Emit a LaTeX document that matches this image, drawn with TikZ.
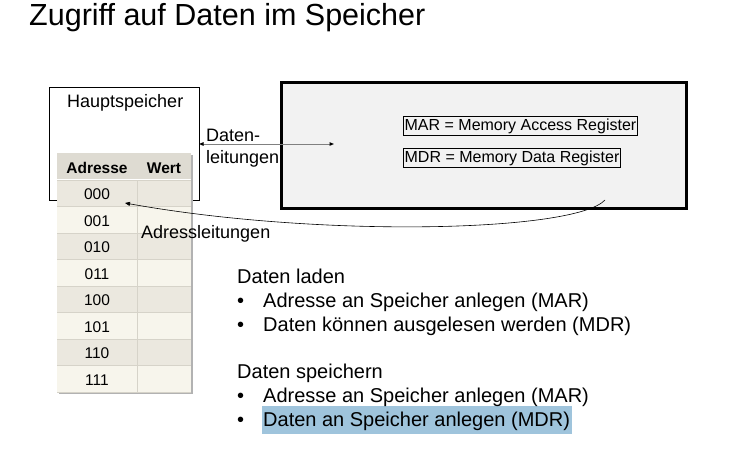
\documentclass[tikz,border=0pt]{standalone}
\usepackage{fontspec}
\setmainfont{Liberation Sans}
\usetikzlibrary{arrows.meta}
\definecolor{hdrfill}{HTML}{DEDBD2}
\definecolor{rowdark}{HTML}{EBE8DF}
\definecolor{rowlight}{HTML}{F7F5EC}
\definecolor{gridline}{HTML}{D6D3C9}
\definecolor{cpufill}{HTML}{F2F2F2}
\definecolor{hilite}{HTML}{9FC4DC}
\begin{document}
\begin{tikzpicture}[x=1pt,y=-1pt,
  txt/.style={inner sep=0pt,anchor=base west,font=\fontsize{20}{23}\selectfont},
  lbl/.style={inner sep=0pt,anchor=base west,font=\fontsize{18}{21}\selectfont},
  reg/.style={draw,line width=0.9pt,inner xsep=1.2pt,inner ysep=2pt,anchor=base west,font=\fontsize{16}{19}\selectfont},
  cell/.style={inner sep=0pt,anchor=base,font=\fontsize{15.5}{18}\selectfont},
  tip/.style={-{Triangle[length=5pt,width=4pt]}},
  datatip/.style={{Triangle[length=4.5pt,width=3.5pt,color=black]}-{Triangle[length=4.5pt,width=3.5pt,color=black]}},
]
\useasboundingbox (0,0) rectangle (731,451);

% title
\node[inner sep=0pt,anchor=base west,font=\fontsize{30.5}{35}\selectfont] (title) at (29,25) {Zugriff auf Daten im Speicher};

% main memory box
\draw[fill=white,line width=0.9pt] (49,87) rectangle (199,200);
\node[lbl] (hs) at (67,107) {Hauptspeicher};
\coordinate (hsright) at (199,144);

% address/value table with shadow
\fill[black!30] (59,155) rectangle (193,394);
\fill[hdrfill] (57,153) rectangle (191,179);
\node[cell,font=\fontsize{15.5}{18}\selectfont\bfseries] (hadr) at (97,173) {Adresse};
\node[cell,font=\fontsize{15.5}{18}\selectfont\bfseries] (hwert) at (164,173) {Wert};
\foreach \a [count=\i from 0] in {000,001,010,011,100,101,110,111}{
  \pgfmathsetmacro{\top}{180+26.5*\i}
  \ifodd\i
    \fill[rowlight] (57,\top) rectangle (191,\top+26.5);
  \else
    \fill[rowdark] (57,\top) rectangle (191,\top+26.5);
  \fi
  \draw[gridline,line width=0.8pt] (57,\top) -- (191,\top);
  \node[cell] (r\a) at (97,\top+19.5) {\a};
}
\draw[white,line width=1.2pt] (57,179.5) -- (191,179.5);
\draw[gridline,line width=0.8pt] (137,180) -- (137,392);
\draw[gridline,line width=0.8pt] (57,392) -- (191,392);
\coordinate (celltip) at (125,203);

% CPU box with registers
\draw[fill=cpufill,line width=3pt] (281.5,82.5) rectangle (686.5,208.5);
\node[reg] (mar) at (403,130) {MAR = Memory Access Register};
\node[reg] (mdr) at (403,162) {MDR = Memory Data Register};
\coordinate (cpuin) at (334,144);
\coordinate (cpuaddr) at (605,200);

% data lines
\draw[datatip,black!50,line width=1pt] (hsright) -- (cpuin);
\node[lbl] (daten1) at (206,141) {Daten-};
\node[lbl] (daten2) at (206,163) {leitungen};

% address lines
\draw[tip,line width=0.6pt] (cpuaddr) .. controls (575,232) and (320,238) .. (celltip);
\node[lbl] (adrl) at (141,238) {Adressleitungen};

% text
\fill[hilite] (262,406) rectangle (572,434);
\node[txt] (l1) at (237,283) {Daten laden};
\node[txt] (b1) at (237,307) {•};
\node[txt] (t1) at (263,307) {Adresse an Speicher anlegen (MAR)};
\node[txt] (b2) at (237,331) {•};
\node[txt] (t2) at (263,331) {Daten können ausgelesen werden (MDR)};
\node[txt] (l2) at (237,378) {Daten speichern};
\node[txt] (b3) at (237,402) {•};
\node[txt] (t3) at (263,402) {Adresse an Speicher anlegen (MAR)};
\node[txt] (b4) at (237,426) {•};
\node[txt] (t4) at (263,426) {Daten an Speicher anlegen (MDR)};
\end{tikzpicture}
\end{document}
